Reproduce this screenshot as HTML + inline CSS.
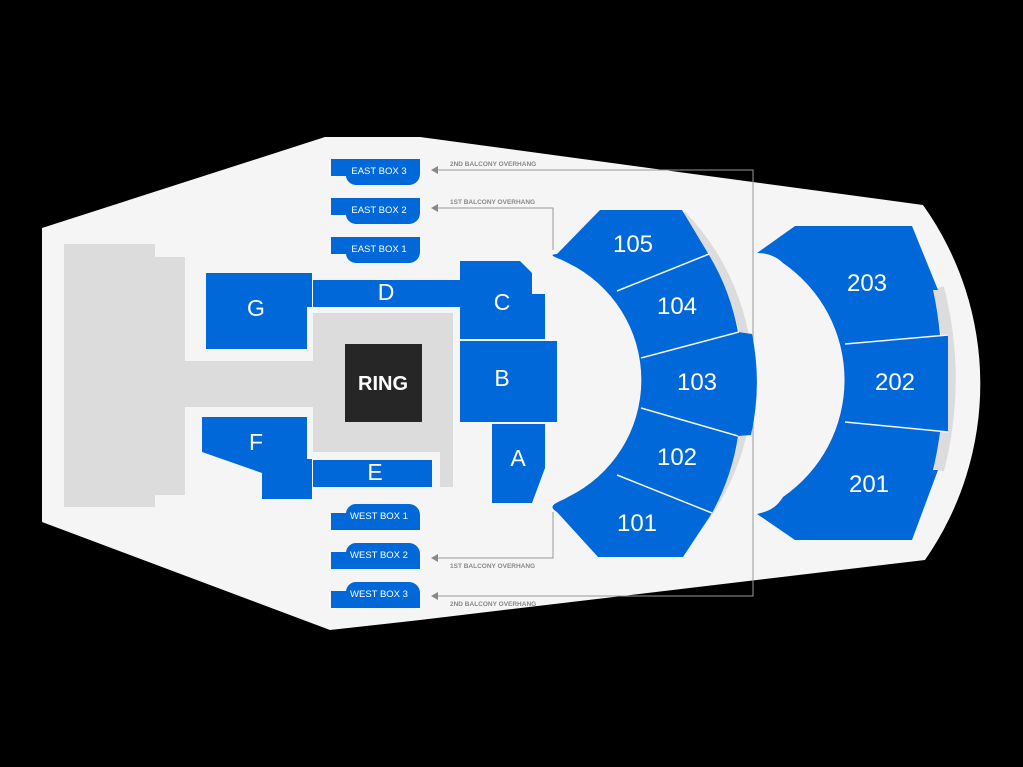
<!DOCTYPE html>
<html><head><meta charset="utf-8"><style>
html,body{margin:0;padding:0;background:#000;}
svg{display:block;}
text{font-family:"Liberation Sans",sans-serif;fill:#fff;text-anchor:middle;}
.s{font-size:24px;}
.l{font-size:23px;}
.bx{font-size:9.5px;}
.bal{font-size:6.5px;font-weight:bold;fill:#888;text-anchor:start;}
</style></head><body>
<svg width="1023" height="767" viewBox="0 0 1023 767" xmlns="http://www.w3.org/2000/svg">
<rect width="1023" height="767" fill="#000"/>
<path d="M42,228 L325,137 L420,137 L923,205 A308,308 0 0 1 925,560 L420,620 L330,630 L42,522 Z" fill="#f5f5f5"/>
<path d="M64,244 H155 V257 H185 V361 H313 V313 H453 V487 H440 V452 H313 V407 H185 V495 H155 V507 H64 Z" fill="#dcdcdc"/>
<g stroke="#999" stroke-width="1" fill="none">
<path d="M436,170 H753 V596 H436"/>
<path d="M436,208 H553 V250"/>
<path d="M553,512 V558 H436"/>
</g>
<g fill="#888">
<polygon points="431,170 438,166 438,174"/>
<polygon points="431,208 438,204 438,212"/>
<polygon points="431,558 438,554 438,562"/>
<polygon points="431,596 438,592 438,600"/>
</g>
<text class="bal" x="450" y="166">2ND BALCONY OVERHANG</text>
<text class="bal" x="450" y="204">1ST BALCONY OVERHANG</text>
<text class="bal" x="450" y="568">1ST BALCONY OVERHANG</text>
<text class="bal" x="450" y="606">2ND BALCONY OVERHANG</text>

<g fill="#0068d9">
<path d="M331,159 H420 V174 A11,11 0 0 1 409,185 H356 A10,10 0 0 1 346,176 H331 Z"/>
<path d="M331,198 H420 V213 A11,11 0 0 1 409,224 H356 A10,10 0 0 1 346,215 H331 Z"/>
<path d="M331,237 H420 V252 A11,11 0 0 1 409,263 H356 A10,10 0 0 1 346,254 H331 Z"/>
<path d="M331,530 H420 V515 A11,11 0 0 0 409,504 H356 A10,10 0 0 0 346,513 H331 Z"/>
<path d="M331,569 H420 V554 A11,11 0 0 0 409,543 H356 A10,10 0 0 0 346,552 H331 Z"/>
<path d="M331,608 H420 V593 A11,11 0 0 0 409,582 H356 A10,10 0 0 0 346,591 H331 Z"/>
<path d="M206,273 H312 V307 H307 V349 H206 Z"/>
<rect x="313" y="280" width="147" height="27"/>
<polygon points="460,261 520,261 532,273 532,294 545,294 545,339 460,339"/>
<rect x="460" y="341" width="97" height="81"/>
<polygon points="492,424 545,424 545,468 532,503 492,503"/>
<polygon points="202,417 307,417 307,459 312,459 312,499 262,499 262,473 202,452"/>
<rect x="313" y="460" width="119" height="27"/>
</g>
<rect x="345" y="344" width="77" height="78" fill="#262626"/>

<path d="M682,215 A238,238 0 0 1 682,545" stroke="#dcdcdc" stroke-width="9" fill="none"/>
<path fill="#0068d9" d="M557,254 L600,210 L682,210 L709,255 A232,232 0 0 1 738,332 L752,334 A241,241 0 0 1 751,435 L738,436 A232,232 0 0 1 712,513 L683,557 L598,557 L557,512 C545,505 560,502 568,497 A130,130 0 0 0 568,263 C560,258 545,255 557,254 Z"/>
<g stroke="#f5f5f5" stroke-width="1.5">
<line x1="617" y1="291" x2="709" y2="254"/>
<line x1="641" y1="358" x2="739" y2="332"/>
<line x1="641" y1="408" x2="738" y2="436"/>
<line x1="617" y1="475" x2="712" y2="513"/>
</g>
<path d="M938,288 A360,360 0 0 1 938,470" stroke="#dcdcdc" stroke-width="12" fill="none"/>
<path fill="#0068d9" d="M757,253 L795,226 L912,226 L938,290 L933,290 A360,360 0 0 1 940,335 L948,335 L948,432 L940,432 A360,360 0 0 1 933,470 L938,470 L912,540 L795,540 L757,514 C765,512 775,510 783,497 A142,142 0 0 0 783,263 C775,255 765,253 757,253 Z"/>
<g stroke="#f5f5f5" stroke-width="1.5">
<line x1="845" y1="344" x2="948" y2="335"/>
<line x1="845" y1="422" x2="948" y2="432"/>
</g>

<text class="bx" x="379" y="174">EAST BOX 3</text>
<text class="bx" x="379" y="213">EAST BOX 2</text>
<text class="bx" x="379" y="252">EAST BOX 1</text>
<text class="bx" x="379" y="519">WEST BOX 1</text>
<text class="bx" x="379" y="558">WEST BOX 2</text>
<text class="bx" x="379" y="597">WEST BOX 3</text>
<text class="l" x="256" y="316">G</text>
<text class="l" x="386" y="300">D</text>
<text class="l" x="502" y="310">C</text>
<text class="l" x="502" y="386">B</text>
<text class="l" x="518" y="466">A</text>
<text class="l" x="256" y="450">F</text>
<text class="l" x="375" y="480">E</text>
<text x="383" y="390" style="font-size:20px;font-weight:bold">RING</text>
<text class="s" x="633" y="252">105</text>
<text class="s" x="677" y="314">104</text>
<text class="s" x="697" y="390">103</text>
<text class="s" x="677" y="465">102</text>
<text class="s" x="637" y="531">101</text>
<text class="s" x="867" y="291">203</text>
<text class="s" x="895" y="390">202</text>
<text class="s" x="869" y="492">201</text>
</svg>
</body></html>
